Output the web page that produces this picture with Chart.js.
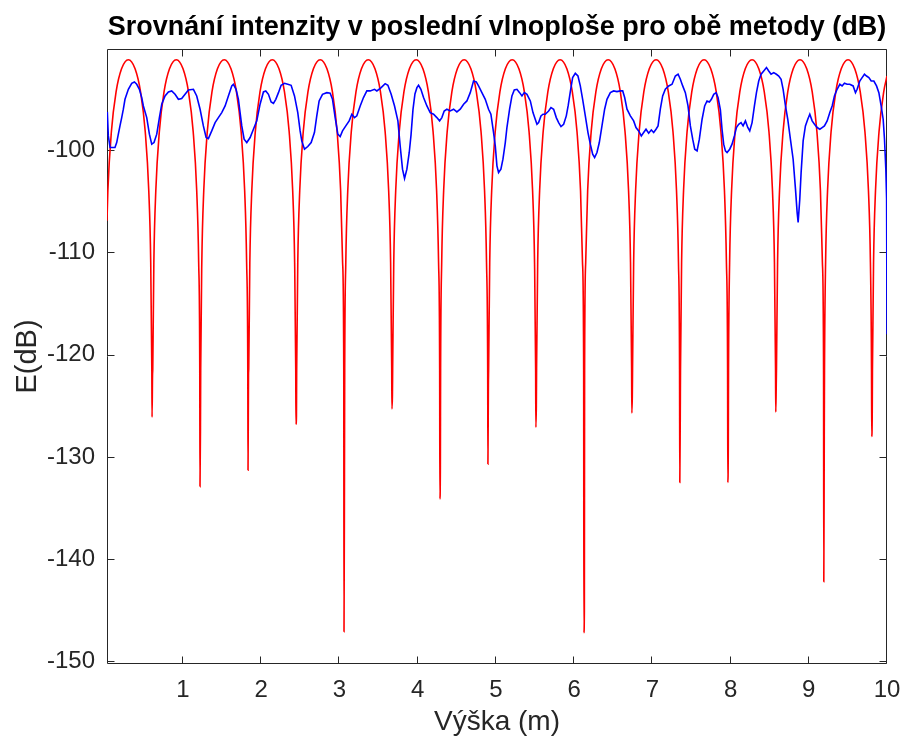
<!DOCTYPE html>
<html>
<head>
<meta charset="utf-8">
<script src="https://cdn.jsdelivr.net/npm/chart.js@4.4.0/dist/chart.umd.min.js"></script>
<style>
html,body{margin:0;padding:0;background:#ffffff;}
#wrap{width:904px;height:746px;}
</style>
</head>
<body>
<div id="wrap"><canvas id="c" width="904" height="746"></canvas></div>
<script>
// ---- tick labels ----
const xTicks = [1, 2, 3, 4, 5, 6, 7, 8, 9, 10];
const yTicks = [-100, -110, -120, -130, -140, -150];

// ---- red series ----
const redX = [
  0.028, 0.039, 0.084, 0.144, 0.214, 0.301, 0.387, 0.457, 0.517, 0.562, 0.587, 0.601, 0.604, 0.610,
  0.613, 0.627, 0.652, 0.697, 0.757, 0.827, 0.914, 1.000, 1.070, 1.130, 1.175, 1.200, 1.214, 1.217, 1.223,
  1.226, 1.240, 1.265, 1.310, 1.370, 1.440, 1.527, 1.613, 1.683, 1.743, 1.788, 1.813, 1.828, 1.831, 1.837,
  1.840, 1.854, 1.879, 1.924, 1.984, 2.054, 2.141, 2.227, 2.297, 2.357, 2.402, 2.427, 2.441, 2.444, 2.450,
  2.453, 2.467, 2.492, 2.537, 2.597, 2.667, 2.754, 2.840, 2.910, 2.970, 3.015, 3.040, 3.055, 3.058, 3.064,
  3.067, 3.081, 3.106, 3.151, 3.211, 3.281, 3.368, 3.454, 3.524, 3.584, 3.629, 3.654, 3.668, 3.671, 3.677,
  3.680, 3.694, 3.719, 3.764, 3.824, 3.894, 3.981, 4.067, 4.137, 4.197, 4.242, 4.267, 4.281, 4.284, 4.290,
  4.293, 4.307, 4.332, 4.377, 4.437, 4.507, 4.594, 4.680, 4.750, 4.810, 4.855, 4.880, 4.895, 4.898, 4.904,
  4.907, 4.921, 4.946, 4.991, 5.051, 5.121, 5.208, 5.294, 5.364, 5.424, 5.469, 5.494, 5.508, 5.511, 5.517,
  5.520, 5.534, 5.559, 5.604, 5.664, 5.734, 5.821, 5.907, 5.977, 6.037, 6.082, 6.107, 6.122, 6.125, 6.131,
  6.134, 6.148, 6.173, 6.218, 6.278, 6.348, 6.435, 6.521, 6.591, 6.651, 6.696, 6.721, 6.735, 6.738, 6.744,
  6.747, 6.761, 6.786, 6.831, 6.891, 6.961, 7.048, 7.134, 7.204, 7.264, 7.309, 7.334, 7.348, 7.351, 7.357,
  7.360, 7.374, 7.399, 7.444, 7.504, 7.574, 7.661, 7.747, 7.817, 7.877, 7.922, 7.947, 7.962, 7.965, 7.971,
  7.974, 7.988, 8.013, 8.058, 8.118, 8.188, 8.275, 8.361, 8.431, 8.491, 8.536, 8.561, 8.575, 8.578, 8.584,
  8.587, 8.601, 8.626, 8.671, 8.731, 8.801, 8.888, 8.974, 9.044, 9.104, 9.149, 9.174, 9.189, 9.192, 9.198,
  9.201, 9.215, 9.240, 9.285, 9.345, 9.415, 9.502, 9.588, 9.658, 9.718, 9.763, 9.788, 9.802, 9.805, 9.811,
  9.814, 9.828, 9.853, 9.898, 9.958, 10.000
];
const redY = [
  -106.9, -103.97, -98.19, -94.3, -92.04, -91.15, -92.04, -94.3, -98.19, -103.97, -110.95, -121.4, -126.1, -122.0,
  -121.4, -110.95, -103.97, -98.19, -94.3, -92.04, -91.15, -92.04, -94.3, -98.19, -103.97, -110.95, -121.4, -132.9, -127.0,
  -121.4, -110.95, -103.97, -98.19, -94.3, -92.04, -91.15, -92.04, -94.3, -98.19, -103.97, -110.95, -121.4, -131.3, -122.0,
  -121.4, -110.95, -103.97, -98.19, -94.3, -92.04, -91.15, -92.04, -94.3, -98.19, -103.97, -110.95, -121.4, -126.8, -126.0,
  -121.4, -110.95, -103.97, -98.19, -94.3, -92.04, -91.15, -92.04, -94.3, -98.19, -103.97, -110.95, -121.4, -147.1, -131.7,
  -121.4, -110.95, -103.97, -98.19, -94.3, -92.04, -91.15, -92.04, -94.3, -98.19, -103.97, -110.95, -121.4, -125.3, -124.0,
  -121.4, -110.95, -103.97, -98.19, -94.3, -92.04, -91.15, -92.04, -94.3, -98.19, -103.97, -110.95, -121.4, -134.1, -131.0,
  -121.4, -110.95, -103.97, -98.19, -94.3, -92.04, -91.15, -92.04, -94.3, -98.19, -103.97, -110.95, -121.4, -130.7, -123.0,
  -121.4, -110.95, -103.97, -98.19, -94.3, -92.04, -91.15, -92.04, -94.3, -98.19, -103.97, -110.95, -121.4, -127.1, -125.0,
  -121.4, -110.95, -103.97, -98.19, -94.3, -92.04, -91.15, -92.04, -94.3, -98.19, -103.97, -110.95, -121.4, -147.2, -145.0,
  -121.4, -110.95, -103.97, -98.19, -94.3, -92.04, -91.15, -92.04, -94.3, -98.19, -103.97, -110.95, -121.4, -125.7, -124.0,
  -121.4, -110.95, -103.97, -98.19, -94.3, -92.04, -91.15, -92.04, -94.3, -98.19, -103.97, -110.95, -121.4, -132.5, -126.0,
  -121.4, -110.95, -103.97, -98.19, -94.3, -92.04, -91.15, -92.04, -94.3, -98.19, -103.97, -110.95, -121.4, -132.5, -129.0,
  -121.4, -110.95, -103.97, -98.19, -94.3, -92.04, -91.15, -92.04, -94.3, -98.19, -103.97, -110.95, -121.4, -125.6, -123.0,
  -121.4, -110.95, -103.97, -98.19, -94.3, -92.04, -91.15, -92.04, -94.3, -98.19, -103.97, -110.95, -121.4, -142.2, -128.0,
  -121.4, -110.95, -103.97, -98.19, -94.3, -92.04, -91.15, -92.04, -94.3, -98.19, -103.97, -110.95, -121.4, -128.0, -126.0,
  -121.4, -110.95, -103.97, -98.19, -94.3, -92.74
];

// ---- blue series ----
const blueX = [
  0.032, 0.045, 0.067, 0.130, 0.152, 0.173, 0.194, 0.216, 0.237, 0.258, 0.301, 0.344, 0.378, 0.408, 0.442, 0.472, 0.493, 0.536, 0.570, 0.600,
  0.629, 0.664, 0.698, 0.728, 0.770, 0.813, 0.855, 0.898, 0.941, 0.983, 1.026, 1.069, 1.133, 1.175, 1.218, 1.260, 1.295, 1.324, 1.367, 1.410,
  1.452, 1.495, 1.538, 1.580, 1.623, 1.644, 1.678, 1.708, 1.751, 1.781, 1.815, 1.858, 1.900, 1.943, 1.985, 2.028, 2.058, 2.092, 2.126, 2.156,
  2.186, 2.220, 2.254, 2.297, 2.339, 2.382, 2.425, 2.467, 2.497, 2.518, 2.553, 2.595, 2.638, 2.680, 2.710, 2.740, 2.783, 2.838, 2.881, 2.911,
  2.945, 2.979, 3.009, 3.039, 3.081, 3.124, 3.158, 3.192, 3.222, 3.265, 3.307, 3.350, 3.393, 3.448, 3.478, 3.533, 3.584, 3.619, 3.661, 3.704,
  3.747, 3.776, 3.806, 3.832, 3.862, 3.892, 3.915, 3.940, 3.965, 3.990, 4.011, 4.041, 4.075, 4.118, 4.160, 4.203, 4.245, 4.280, 4.309, 4.339,
  4.373, 4.416, 4.459, 4.501, 4.544, 4.587, 4.629, 4.672, 4.714, 4.749, 4.778, 4.821, 4.864, 4.906, 4.936, 4.970, 4.992, 5.013, 5.034, 5.064,
  5.090, 5.120, 5.141, 5.175, 5.205, 5.235, 5.269, 5.303, 5.333, 5.363, 5.397, 5.440, 5.474, 5.503, 5.525, 5.546, 5.576, 5.602, 5.631, 5.674,
  5.704, 5.738, 5.772, 5.802, 5.832, 5.866, 5.900, 5.925, 5.951, 5.981, 6.015, 6.049, 6.079, 6.109, 6.143, 6.177, 6.207, 6.237, 6.262, 6.292,
  6.322, 6.356, 6.390, 6.420, 6.463, 6.505, 6.548, 6.591, 6.621, 6.646, 6.676, 6.719, 6.761, 6.791, 6.825, 6.859, 6.889, 6.919, 6.953, 6.987,
  7.017, 7.047, 7.073, 7.102, 7.132, 7.166, 7.209, 7.252, 7.294, 7.329, 7.358, 7.388, 7.422, 7.456, 7.486, 7.516, 7.542, 7.572, 7.601, 7.636,
  7.669, 7.699, 7.729, 7.755, 7.785, 7.815, 7.840, 7.870, 7.891, 7.912, 7.934, 7.955, 7.989, 8.019, 8.049, 8.075, 8.104, 8.134, 8.160, 8.190,
  8.220, 8.245, 8.275, 8.305, 8.331, 8.360, 8.390, 8.424, 8.459, 8.488, 8.518, 8.552, 8.586, 8.616, 8.646, 8.672, 8.702, 8.731, 8.765, 8.800,
  8.830, 8.851, 8.864, 8.885, 8.902, 8.928, 8.957, 8.987, 9.013, 9.043, 9.073, 9.107, 9.141, 9.171, 9.200, 9.235, 9.269, 9.299, 9.328, 9.362,
  9.397, 9.426, 9.456, 9.490, 9.524, 9.567, 9.597, 9.618, 9.652, 9.682, 9.712, 9.738, 9.768, 9.798, 9.832, 9.866, 9.896, 9.925, 9.951, 9.968,
  9.985, 9.995, 10.000
];
const blueY = [
  -96.25, -98.60, -99.74, -99.74, -99.25, -98.43, -97.62, -96.81, -95.99, -95.02, -94.04, -93.45, -93.32, -93.55, -94.04, -94.85, -95.67, -96.81, -98.43, -99.41,
  -99.25, -98.43, -96.81, -95.50, -94.69, -94.30, -94.20, -94.53, -95.02, -94.95, -94.53, -94.10, -94.04, -94.69, -95.99, -97.62, -98.76, -98.86, -98.11, -97.30,
  -96.81, -96.32, -95.67, -94.69, -93.71, -93.55, -94.04, -95.02, -97.62, -98.92, -99.25, -98.76, -97.95, -97.13, -95.50, -94.30, -94.20, -94.53, -95.28, -95.41,
  -95.02, -94.37, -93.65, -93.45, -93.55, -93.65, -94.69, -96.32, -98.11, -99.09, -99.90, -99.64, -99.25, -98.27, -96.64, -95.18, -94.53, -94.37, -94.43, -95.02,
  -96.81, -98.43, -98.66, -98.11, -97.62, -97.13, -96.48, -96.81, -96.64, -95.67, -94.85, -94.20, -94.20, -94.04, -94.20, -93.88, -93.49, -93.65, -94.53, -95.67,
  -97.13, -99.57, -101.85, -102.76, -101.85, -100.22, -98.50, -96.00, -94.50, -93.88, -93.65, -94.04, -94.85, -95.67, -96.32, -96.48, -96.81, -97.13, -96.81, -96.16,
  -95.99, -96.16, -95.99, -96.25, -95.99, -95.50, -95.18, -94.37, -93.23, -93.32, -93.71, -94.37, -95.02, -95.99, -96.48, -98.27, -99.57, -101.53, -102.18, -101.85,
  -100.88, -99.25, -97.78, -95.99, -94.69, -94.10, -94.04, -94.37, -94.69, -94.37, -94.53, -95.18, -96.32, -96.97, -97.46, -97.30, -96.64, -96.48, -96.48, -96.16,
  -95.83, -95.99, -96.81, -97.30, -97.69, -97.46, -96.64, -95.60, -94.30, -92.90, -92.48, -92.74, -93.71, -95.02, -96.64, -98.27, -99.41, -100.39, -100.71, -100.22,
  -99.25, -97.62, -95.99, -95.02, -94.37, -94.20, -94.27, -94.20, -94.20, -94.85, -95.99, -96.64, -97.13, -97.78, -98.11, -98.60, -98.27, -97.95, -98.34, -98.01,
  -98.27, -97.95, -97.62, -95.99, -94.69, -94.04, -93.71, -93.55, -92.74, -92.57, -93.06, -93.71, -94.37, -95.67, -97.62, -98.92, -99.90, -100.06, -98.92, -96.97,
  -95.67, -95.18, -95.28, -95.02, -94.53, -94.37, -94.85, -96.05, -97.95, -99.41, -100.06, -100.22, -99.90, -99.41, -98.60, -97.78, -97.46, -97.30, -97.62, -97.13,
  -97.78, -98.11, -97.30, -95.67, -94.37, -93.23, -92.57, -92.25, -91.92, -92.25, -92.57, -92.41, -92.57, -92.74, -93.06, -94.04, -95.67, -96.97, -98.92, -100.88,
  -103.81, -106.08, -107.06, -104.78, -102.18, -99.09, -97.62, -96.97, -96.48, -97.13, -97.46, -97.78, -97.95, -97.78, -97.62, -97.13, -96.32, -95.67, -94.69, -94.04,
  -93.55, -93.71, -93.45, -93.55, -93.55, -93.71, -94.37, -94.04, -93.23, -92.90, -92.57, -92.74, -92.90, -93.23, -93.23, -93.71, -94.37, -95.67, -96.97, -98.92,
  -101.85, -104.78, -118.0
];

// ---- texts ----
const titleText = 'Srovnání intenzity v poslední vlnoploše pro obě metody (dB)';
const xLabel = 'Výška (m)';
const yLabel = 'E(dB)';

const toPoints = (xs, ys) => xs.map((x, i) => ({x: x, y: ys[i]}));

Chart.defaults.font.family = "'Liberation Sans', Arial, Helvetica, sans-serif";

const framePlugin = {
  id: 'frame',
  beforeDatasetsDraw(chart) {
    const {ctx, chartArea: a, scales} = chart;
    const xs = scales.x, ys = scales.y;
    const L = Math.round(a.left) + 0.5, R = Math.round(a.right) - 0.5;
    const T = Math.round(a.top) + 0.5, B = Math.round(a.bottom) - 0.5;
    ctx.save();
    ctx.strokeStyle = '#262626';
    ctx.lineWidth = 1;
    ctx.beginPath();
    ctx.moveTo(L, T); ctx.lineTo(R, T); ctx.lineTo(R, B); ctx.lineTo(L, B); ctx.closePath();
    ctx.stroke();
    const tl = 7;
    ctx.beginPath();
    xTicks.forEach(v => {
      const p = Math.round(xs.getPixelForValue(v)) - 0.5;
      ctx.moveTo(p, B); ctx.lineTo(p, B - tl);
      ctx.moveTo(p, T); ctx.lineTo(p, T + tl);
    });
    yTicks.forEach(v => {
      const p = Math.round(ys.getPixelForValue(v)) + 0.5;
      ctx.moveTo(L, p); ctx.lineTo(L + tl, p);
      ctx.moveTo(R, p); ctx.lineTo(R - tl, p);
    });
    ctx.stroke();
    ctx.restore();
  }
};

new Chart(document.getElementById('c'), {
  type: 'line',
  data: {
    datasets: [
      {
        label: 'blue',
        data: toPoints(blueX, blueY),
        borderColor: '#0000ff',
        borderWidth: 1.6,
        pointRadius: 0,
        tension: 0,
        fill: false
      },
      {
        label: 'red',
        data: toPoints(redX, redY),
        borderColor: '#ff0000',
        borderWidth: 1.6,
        pointRadius: 0,
        cubicInterpolationMode: 'monotone',
        fill: false
      }
    ]
  },
  options: {
    responsive: false,
    devicePixelRatio: 1,
    animation: false,
    events: [],
    layout: {padding: {left: 0, right: 17, top: 0, bottom: 0}},
    plugins: {
      legend: {display: false},
      tooltip: {enabled: false},
      title: {
        display: true,
        text: titleText,
        fullSize: false,
        color: '#000000',
        font: {size: 27, weight: 'bold', lineHeight: 1.2},
        padding: {top: 11, bottom: 5.6}
      }
    },
    scales: {
      x: {
        type: 'linear',
        min: 0.028,
        max: 10,
        grid: {display: false, drawTicks: false, tickLength: 0},
        border: {display: false},
        afterBuildTicks: s => { s.ticks = xTicks.map(v => ({value: v})); },
        afterFit: s => { s.height = 82; s.paddingLeft = 0; s.paddingRight = 0; },
        ticks: {
          color: '#262626',
          font: {size: 24},
          padding: 12,
          maxRotation: 0,
          autoSkip: false,
          callback: v => String(v)
        },
        title: {
          display: true,
          text: xLabel,
          color: '#262626',
          font: {size: 28},
          padding: {top: 0, bottom: 7}
        }
      },
      y: {
        type: 'linear',
        min: -150.25,
        max: -90.1,
        grid: {display: false, drawTicks: false, tickLength: 0},
        border: {display: false},
        afterBuildTicks: s => { s.ticks = yTicks.map(v => ({value: v})); },
        afterFit: s => { s.width = 107; },
        ticks: {
          color: '#262626',
          font: {size: 24},
          padding: 12,
          autoSkip: false,
          callback: v => String(v)
        },
        title: {
          display: true,
          text: yLabel,
          color: '#262626',
          font: {size: 29},
          padding: {top: 11, bottom: 0}
        }
      }
    }
  },
  plugins: [framePlugin]
});
</script>
</body>
</html>
